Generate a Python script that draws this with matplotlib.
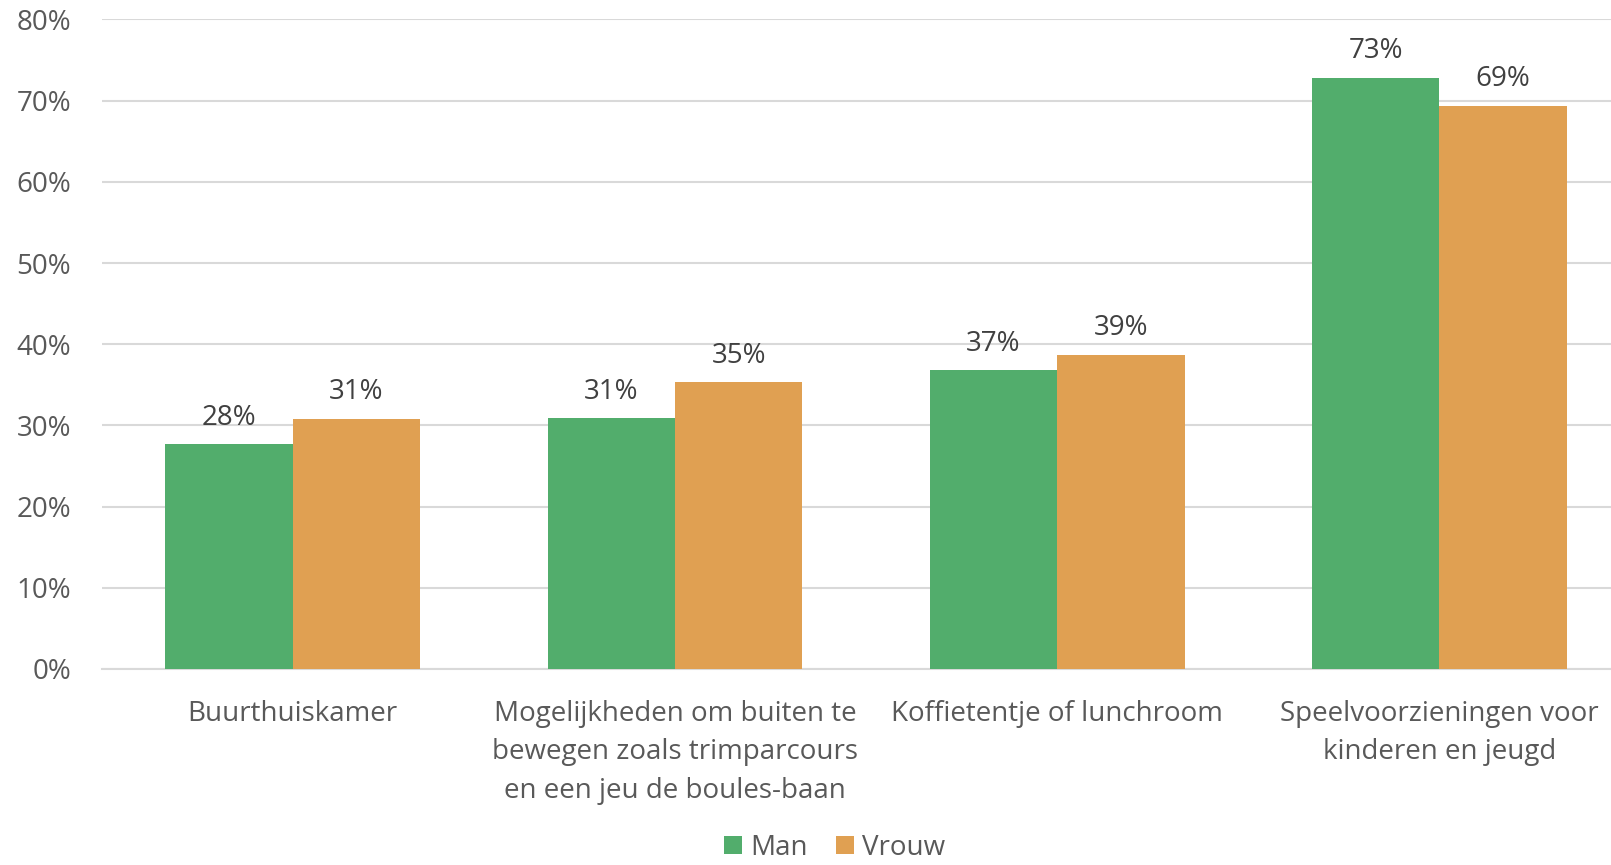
import matplotlib
matplotlib.use("Agg")
import matplotlib.pyplot as plt
import numpy as np

categories = ["Buurthuiskamer",
              "Mogelijkheden om buiten te\nbewegen zoals trimparcours\nen een jeu de boules-baan",
              "Koffietentje of lunchroom",
              "Speelvoorzieningen voor\nkinderen en jeugd"]
man = [27.7, 30.9, 36.8, 72.8]
vrouw = [30.8, 35.3, 38.7, 69.4]
man_labels = ["28%", "31%", "37%", "73%"]
vrouw_labels = ["31%", "35%", "39%", "69%"]
yticks = [0, 10, 20, 30, 40, 50, 60, 70, 80]

plt.rcParams['font.family'] = ['Open Sans', 'DejaVu Sans']
green = "#52AD6C"
orange = "#E0A052"
tcol = "#595959"

fig = plt.figure(figsize=(16.11, 8.65), dpi=100)
ax = fig.add_axes([0.0631, 0.2266, 0.949, 0.7509])
x = np.arange(len(categories))
w = 1/3
b1 = ax.bar(x - w/2, man, w, color=green, label="Man", zorder=3)
b2 = ax.bar(x + w/2, vrouw, w, color=orange, label="Vrouw", zorder=3)
for bars, labs in ((b1, man_labels), (b2, vrouw_labels)):
    for r, l in zip(bars, labs):
        ax.annotate(l, (r.get_x() + r.get_width()/2, r.get_height()),
                    xytext=(0, 9), textcoords="offset points", ha="center", va="bottom",
                    fontsize=20, color="#404040")
ax.set_xlim(-0.5, len(categories) - 0.5)
ax.set_ylim(0, 80)
ax.set_yticks(yticks)
ax.set_yticklabels([f"{v}%" for v in yticks], fontsize=20, color=tcol)
ax.set_xticks(x)
ax.set_xticklabels(categories, fontsize=20, color=tcol, linespacing=1.5)
ax.tick_params(axis='both', length=0)
ax.tick_params(axis='x', pad=22)
ax.tick_params(axis='y', pad=22)
ax.grid(axis='y', color="#D9D9D9", linewidth=1.5, zorder=0)
for s in ["top", "right", "left"]:
    ax.spines[s].set_visible(False)
ax.spines["bottom"].set_color("#D9D9D9")
ax.spines["bottom"].set_linewidth(1.5)
fig.legend(loc="center", bbox_to_anchor=(0.518, 0.02), ncol=2, frameon=False,
           fontsize=20, labelcolor=tcol, handlelength=0.65, handleheight=0.65,
           handletextpad=0.3, columnspacing=1.0, borderpad=0.1)
fig.savefig("out.png", dpi=100)
